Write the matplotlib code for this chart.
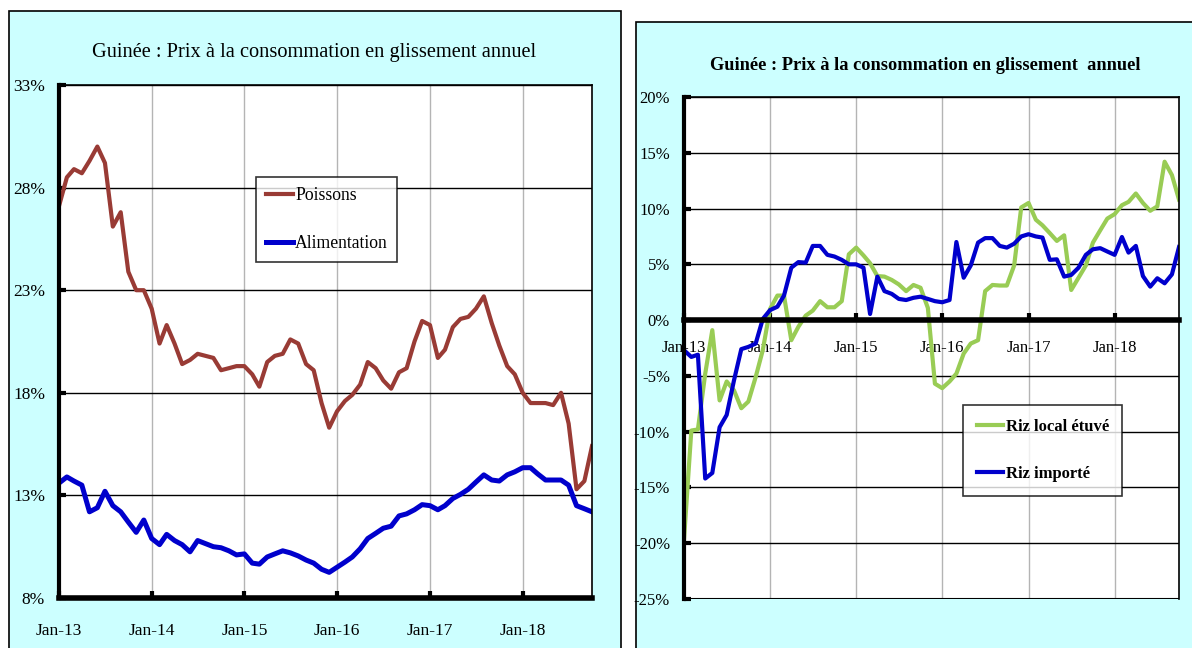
import numpy as np
import pandas as pd
import matplotlib
matplotlib.use('Agg')
import matplotlib.pyplot as plt
from matplotlib.patches import Rectangle

# monthly data, Jan-13 .. Oct-18
dates = pd.date_range('2013-01-01', periods=70, freq='MS')

poissons = [27.1, 28.5, 28.9, 28.7, 29.3, 30.0, 29.2, 26.1, 26.8, 23.9,
            23.0, 23.0, 22.1, 20.4, 21.3, 20.4, 19.4, 19.6, 19.9, 19.8,
            19.7, 19.1, 19.2, 19.3, 19.3, 18.9, 18.3, 19.5, 19.8, 19.9,
            20.6, 20.4, 19.4, 19.1, 17.5, 16.3, 17.1, 17.6, 17.9, 18.4,
            19.5, 19.2, 18.6, 18.2, 19.0, 19.2, 20.5, 21.5, 21.3, 19.7,
            20.1, 21.2, 21.6, 21.7, 22.1, 22.7, 21.4, 20.3, 19.3, 18.9,
            18.0, 17.5, 17.5, 17.5, 17.4, 18.0, 16.5, 13.3, 13.7, 15.4]

alimentation = [13.6, 13.9, 13.7, 13.5, 12.2, 12.4, 13.2, 12.5, 12.2, 11.7,
                11.2, 11.8, 10.9, 10.6, 11.1, 10.8, 10.6, 10.25, 10.8, 10.65,
                10.5, 10.45, 10.3, 10.1, 10.15, 9.7, 9.65, 10.0, 10.15, 10.3,
                10.2, 10.05, 9.85, 9.7, 9.4, 9.25, 9.5, 9.75, 10.0, 10.4,
                10.9, 11.15, 11.4, 11.5, 12.0, 12.1, 12.3, 12.55, 12.5, 12.3,
                12.5, 12.85, 13.05, 13.3, 13.65, 14.0, 13.75, 13.7, 14.0, 14.15,
                14.35, 14.35, 14.05, 13.75, 13.75, 13.75, 13.5, 12.5, 12.35, 12.2]

riz_local = [-19.7, -9.9, -9.8, -4.8, -0.9, -7.2, -5.5, -6.3, -7.9, -7.3,
             -5.1, -2.7, 1.0, 2.2, 2.2, -1.8, -0.6, 0.4, 0.85, 1.7,
             1.15, 1.15, 1.7, 5.9, 6.5, 5.8, 5.1, 3.95, 3.9, 3.6,
             3.2, 2.6, 3.15, 2.9, 1.1, -5.7, -6.1, -5.5, -4.8, -3.0,
             -2.1, -1.8, 2.6, 3.15, 3.1, 3.1, 4.9, 10.1, 10.5, 9.0,
             8.5, 7.8, 7.1, 7.6, 2.7, 3.8, 4.9, 6.95, 8.05, 9.1,
             9.5, 10.3, 10.6, 11.35, 10.5, 9.8, 10.2, 14.2, 13.0, 10.8]

riz_importe = [-2.7, -3.3, -3.1, -14.2, -13.7, -9.6, -8.5, -5.4, -2.6, -2.4,
               -2.1, 0.1, 0.9, 1.2, 2.2, 4.7, 5.2, 5.15, 6.65, 6.65,
               5.85, 5.7, 5.4, 5.0, 5.0, 4.7, 0.55, 3.9, 2.6, 2.35,
               1.9, 1.8, 2.0, 2.1, 1.9, 1.7, 1.6, 1.8, 7.0, 3.8,
               4.9, 6.95, 7.35, 7.35, 6.65, 6.5, 6.85, 7.5, 7.7, 7.5,
               7.4, 5.4, 5.45, 3.9, 4.05, 4.7, 5.85, 6.35, 6.45, 6.15,
               5.85, 7.45, 6.05, 6.65, 3.95, 3.0, 3.75, 3.3, 4.1, 6.55]

year_ticks = pd.date_range('2013-01-01', periods=6, freq='12MS')
year_labels = ['Jan-13', 'Jan-14', 'Jan-15', 'Jan-16', 'Jan-17', 'Jan-18']

title = 'Guinée : Prix à la consommation en glissement annuel'

plt.rcParams['font.family'] = ['Liberation Serif', 'DejaVu Serif']

fig = plt.figure(figsize=(11.92, 6.48), dpi=100)
fig.patch.set_facecolor('white')

# cyan panels behind the two charts
fig.patches.append(Rectangle((9/1192, -0.02), 612/1192, 1.02 - 11/648,
                             transform=fig.transFigure, facecolor='#ccffff',
                             edgecolor='black', linewidth=1.2, zorder=-5))
fig.patches.append(Rectangle((636/1192, -0.02), 0.5, 1.02 - 22/648,
                             transform=fig.transFigure, facecolor='#ccffff',
                             edgecolor='black', linewidth=1.2, zorder=-5))

# ---- left chart ----
ax1 = fig.add_axes([59/1192, 1 - 598/648, 533/1192, 513/648])
ax1.plot(dates, poissons, color='#993b35', lw=3.0, label='Poissons')
ax1.plot(dates, alimentation, color='#0000cc', lw=3.6, label='Alimentation')
ax1.set_xlim(dates[0], dates[-1])
ax1.set_ylim(8, 33)
ax1.set_yticks(np.arange(8, 34, 5))
ax1.set_yticklabels([f'{v}%' for v in range(8, 34, 5)])
ax1.set_xticks(year_ticks)
ax1.set_xticklabels(year_labels)
ax1.grid(axis='y', color='black', lw=1.0)
ax1.grid(axis='x', color='#b4b4b4', lw=1.0)
ax1.set_axisbelow(True)
ax1.spines['left'].set_linewidth(3)
ax1.spines['bottom'].set_linewidth(4)
ax1.spines['top'].set_linewidth(1.2)
ax1.spines['right'].set_linewidth(1.2)
ax1.tick_params(direction='in', length=5, width=3, labelsize=12.5, pad=10)
ax1.tick_params(axis='x', pad=18)
leg1 = ax1.legend(loc='upper left', bbox_to_anchor=(0.37, 0.82), fontsize=12.7,
                  frameon=True, fancybox=False, edgecolor='black',
                  labelspacing=1.75, handlelength=1.55, handletextpad=0.1,
                  borderaxespad=0, borderpad=0.55)
leg1.get_frame().set_linewidth(1.2)
fig.text(314/1192, 1 - 52/648, title, ha='center', va='center', fontsize=14.7)

# ---- right chart ----
ax2 = fig.add_axes([684/1192, 1 - 599/648, 495/1192, 502/648])
ax2.plot(dates, riz_local, color='#99cc55', lw=3.0, label='Riz local étuvé')
ax2.plot(dates, riz_importe, color='#0000cc', lw=3.0, label='Riz importé')
ax2.set_xlim(dates[0], dates[-1])
ax2.set_ylim(-25, 20)
ax2.set_yticks(np.arange(-25, 21, 5))
ax2.set_yticklabels([f'{v}%' for v in range(-25, 21, 5)])
ax2.set_xticks(year_ticks)
ax2.set_xticklabels(year_labels)
ax2.spines['bottom'].set_position(('data', 0))
ax2.spines['bottom'].set_linewidth(4)
ax2.spines['left'].set_linewidth(3)
ax2.spines['top'].set_linewidth(1.2)
ax2.spines['right'].set_linewidth(1.2)
ax2.grid(axis='y', color='black', lw=1.0)
ax2.grid(axis='x', color='#b4b4b4', lw=1.0)
ax2.axhline(-25, color='black', lw=1.5)
ax2.set_axisbelow(True)
ax2.tick_params(direction='in', length=5, width=3, labelsize=12, pad=10)
ax2.tick_params(axis='x', pad=14)
leg2 = ax2.legend(loc='upper left', bbox_to_anchor=(0.564, 0.386),
                  prop={'size': 12, 'weight': 'bold'},
                  frameon=True, fancybox=False, edgecolor='black',
                  labelspacing=1.9, handlelength=1.6, handletextpad=0.15,
                  borderaxespad=0, borderpad=0.8)
leg2.get_frame().set_linewidth(1.2)
fig.text(925/1192, 1 - 65/648, title.replace('glissement ', 'glissement  '),
         ha='center', va='center', fontsize=13.2, fontweight='bold')

plt.savefig('out.png', dpi=100)
plt.close()
